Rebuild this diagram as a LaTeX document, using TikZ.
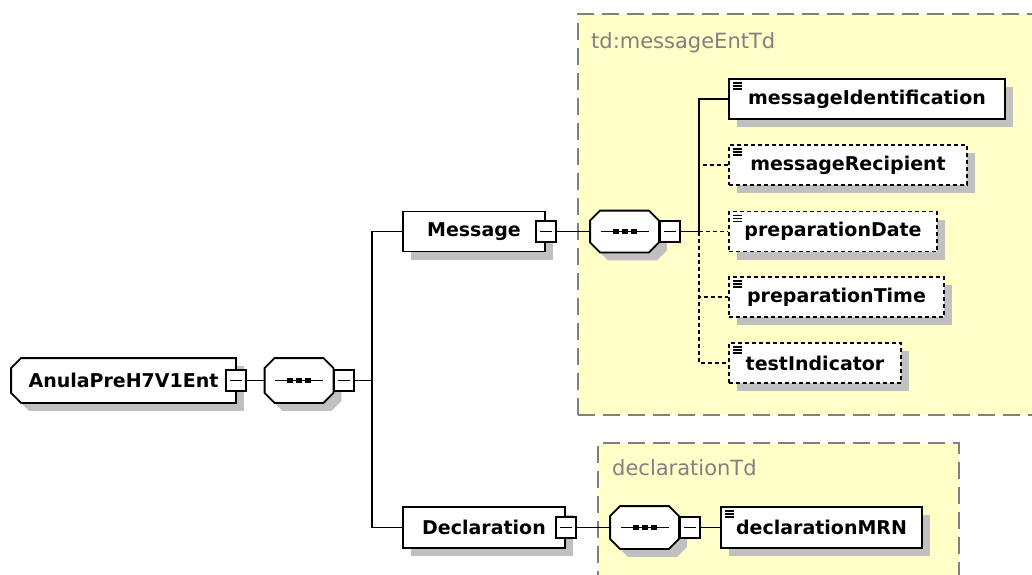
\documentclass[tikz,border=0pt]{standalone}
\usepackage{fontspec}
\usepackage{tikz}
\usetikzlibrary{shadows}
\newfontfamily\xsdfont{DejaVu Sans}
\definecolor{typefill}{RGB}{255,255,200}
\definecolor{typeline}{RGB}{128,128,128}
\definecolor{shadowgray}{RGB}{192,192,192}

% box with cut corners on the west and/or east side
\makeatletter
\pgfkeys{/pgf/cut west/.initial=10pt, /pgf/cut east/.initial=10pt}
\pgfdeclareshape{cut box}{%
	\inheritsavedanchors[from=rectangle]%
	\inheritanchorborder[from=rectangle]%
	\inheritanchor[from=rectangle]{center}%
	\inheritanchor[from=rectangle]{north}%
	\inheritanchor[from=rectangle]{south}%
	\inheritanchor[from=rectangle]{east}%
	\inheritanchor[from=rectangle]{west}%
	\inheritanchor[from=rectangle]{north east}%
	\inheritanchor[from=rectangle]{north west}%
	\inheritanchor[from=rectangle]{south east}%
	\inheritanchor[from=rectangle]{south west}%
	\backgroundpath{%
		\southwest\edef\cutl{\the\pgf@x}\edef\cutb{\the\pgf@y}%
		\northeast\edef\cutr{\the\pgf@x}\edef\cutt{\the\pgf@y}%
		\edef\cutw{\pgfkeysvalueof{/pgf/cut west}}%
		\edef\cute{\pgfkeysvalueof{/pgf/cut east}}%
		\pgfpathmoveto{\pgfpoint{\cutl+\cutw}{\cutb}}%
		\pgfpathlineto{\pgfpoint{\cutr-\cute}{\cutb}}%
		\pgfpathlineto{\pgfpoint{\cutr}{\cutb+\cute}}%
		\pgfpathlineto{\pgfpoint{\cutr}{\cutt-\cute}}%
		\pgfpathlineto{\pgfpoint{\cutr-\cute}{\cutt}}%
		\pgfpathlineto{\pgfpoint{\cutl+\cutw}{\cutt}}%
		\pgfpathlineto{\pgfpoint{\cutl}{\cutt-\cutw}}%
		\pgfpathlineto{\pgfpoint{\cutl}{\cutb+\cutw}}%
		\pgfpathclose
	}%
}
\makeatother

\tikzset{
	element/.style={
		draw,
		rectangle,
		fill=white,
		line width=1.8pt,
		inner sep=0pt,
		minimum height=40pt,
		font=\xsdfont\bfseries\fontsize{19}{23}\selectfont,
		general shadow={fill=shadowgray, shadow xshift=8pt, shadow yshift=-8pt}
	},
	root/.style={
		element,
		shape=cut box,
		cut east=0pt
	},
	leaf/.style={
		element,
		path picture={
			\foreach \dy in {4pt,7pt,10pt}
				\draw[solid, line width=1.2pt] ([shift={(4pt,-\dy)}]path picture bounding box.north west) -- ++(9pt,0pt);
		}
	},
	optional/.style={dash pattern=on 4pt off 3pt},
	compositor/.style={
		draw,
		shape=cut box,
		fill=white,
		line width=1.8pt,
		inner sep=0pt,
		minimum width=67pt,
		minimum height=40pt,
		general shadow={fill=shadowgray, shadow xshift=8pt, shadow yshift=-8pt},
		path picture={
			\draw[black, line width=1.3pt] ([xshift=-24pt]path picture bounding box.center) -- ([xshift=24pt]path picture bounding box.center);
			\foreach \dx in {-9pt,0pt,9pt}
				\fill[black] ([xshift=\dx]path picture bounding box.center) +(-3pt,-2.7pt) rectangle +(3pt,2.7pt);
		}
	},
	toggle/.style={
		draw,
		rectangle,
		fill=white,
		line width=1.7pt,
		inner sep=0pt,
		minimum width=20pt,
		minimum height=21pt,
		path picture={
			\draw[line width=1.4pt] ([xshift=-6pt]path picture bounding box.center) -- ([xshift=6pt]path picture bounding box.center);
		}
	},
	typebox/.style={
		draw=typeline,
		fill=typefill,
		line width=1.8pt,
		dash pattern=on 17pt off 8pt,
		rectangle,
		anchor=north west,
		inner sep=0pt
	},
	typelabel/.style={
		text=typeline,
		anchor=base west,
		inner sep=0pt,
		font=\xsdfont\fontsize{21}{25}\selectfont
	},
	link/.style={line width=1.6pt},
	optlink/.style={link, dash pattern=on 4pt off 3pt}
}

\begin{document}
\begin{tikzpicture}[x=1pt, y=-1pt]
	\useasboundingbox (0,0) rectangle (1032,574);
	
	% complex types
	\node(messagetype) at (577,13) [typebox, minimum width=470pt, minimum height=401pt] {};
	\node(messagetypelabel) at (591,48) [typelabel] {td:messageEntTd};
	\node(declarationtype) at (597,442) [typebox, minimum width=361pt, minimum height=150pt] {};
	\node(declarationtypelabel) at (612,475) [typelabel] {declarationTd};
	
	% root
	\node(anula) at (123.5,380.5) [root, minimum width=223pt, minimum height=43pt] {AnulaPreH7V1Ent};
	\node(anulatoggle) at (anula.east) [toggle] {};
	\node(seq1) at (299,380.5) [compositor, minimum height=43pt] {};
	\node(seq1toggle) at (seq1.east) [toggle, anchor=west] {};
	\coordinate(trunk1) at (372,380.5);
	
	% Message
	\node(message) at (474,231.5) [element, minimum width=142pt] {Message};
	\node(messagetoggle) at (message.east) [toggle] {};
	\node(seq2) at (624.5,231.5) [compositor] {};
	\node(seq2toggle) at (seq2.east) [toggle, anchor=west] {};
	\coordinate(trunk2) at (699,231.5);
	\node(messageIdentification) at (867,99) [leaf, minimum width=276pt] {messageIdentification};
	\node(messageRecipient) at (848,165) [leaf, optional, minimum width=238pt] {messageRecipient};
	\node(preparationDate) at (833,231.5) [leaf, optional, minimum width=208pt] {preparationDate};
	\node(preparationTime) at (836.5,297) [leaf, optional, minimum width=215pt] {preparationTime};
	\node(testIndicator) at (815,363) [leaf, optional, minimum width=172pt] {testIndicator};
	
	% Declaration
	\node(declaration) at (484,527.5) [element, minimum width=162pt, minimum height=41pt] {Declaration};
	\node(declarationtoggle) at (declaration.east) [toggle] {};
	\node(seq3) at (644.5,527.5) [compositor, minimum height=41pt] {};
	\node(seq3toggle) at (seq3.east) [toggle, anchor=west] {};
	\node(declarationMRN) at (821.5,527.5) [leaf, minimum width=201pt, minimum height=41pt] {declarationMRN};
	
	\draw[link] (anulatoggle) -- (seq1);
	\draw[link] (seq1toggle) -- (trunk1);
	\draw[link] (trunk1) |- (message);
	\draw[link] (trunk1) |- (declaration);
	
	\draw[link] (messagetoggle) -- (seq2);
	\draw[link] (seq2toggle) -- (trunk2);
	\draw[link] (trunk2) |- (messageIdentification);
	\draw[optlink] (trunk2) |- (messageRecipient);
	\draw[optlink] (trunk2) |- (preparationDate);
	\draw[optlink] (trunk2) |- (preparationTime);
	\draw[optlink] (trunk2) |- (testIndicator);
	
	\draw[link] (declarationtoggle) -- (seq3);
	\draw[link] (seq3toggle) -- (declarationMRN);
	
\end{tikzpicture}
\end{document}
